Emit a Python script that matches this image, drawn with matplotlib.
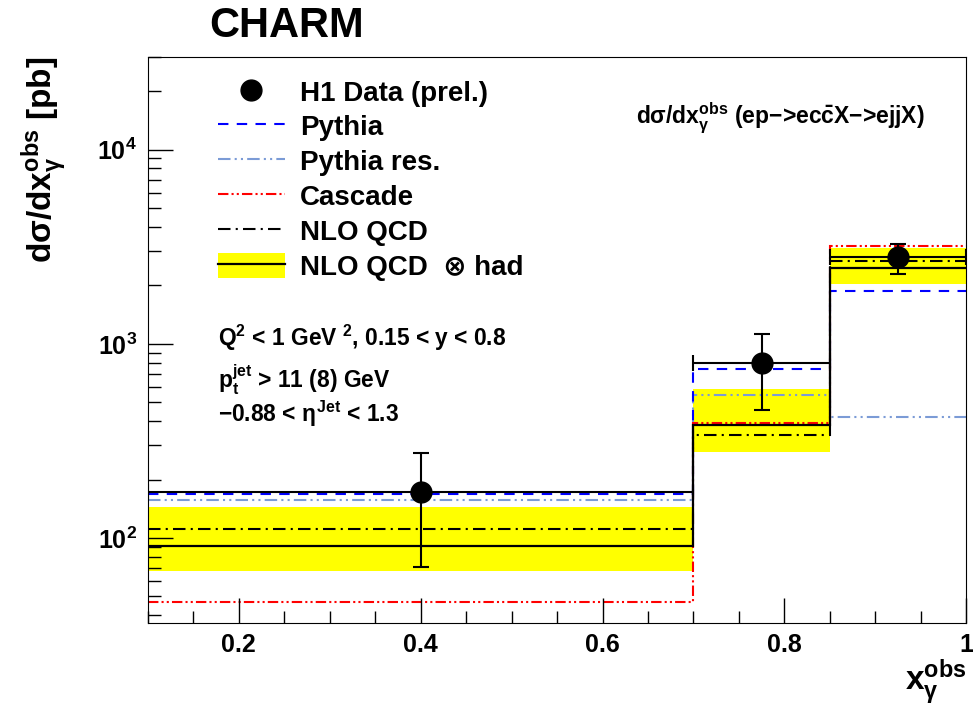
import numpy as np
import matplotlib
matplotlib.use("Agg")
import matplotlib.pyplot as plt
from matplotlib.lines import Line2D
from matplotlib.patches import Patch
from matplotlib.ticker import LogLocator, MultipleLocator, FixedLocator

plt.rcParams["font.family"] = ["Liberation Sans", "DejaVu Sans"]
plt.rcParams["font.weight"] = "bold"
plt.rcParams["axes.labelweight"] = "bold"
plt.rcParams["mathtext.fontset"] = "custom"
plt.rcParams["mathtext.rm"] = "Liberation Sans:bold"
plt.rcParams["mathtext.it"] = "Liberation Sans:bold"
plt.rcParams["mathtext.bf"] = "Liberation Sans:bold"

# bins in x_gamma^obs
edges = [0.1, 0.7, 0.85, 1.0]
x_data = [0.4, 0.775, 0.925]
x_half = [0.3, 0.075, 0.075]

# H1 data (prel.) with total errors
data = [173, 798, 2805]
data_up = [274, 1126, 3273]
data_lo = [71, 457, 2297]

# predictions
pythia = [169, 743, 1875]
pythia_res = [157, 546, 421]
cascade = [46.8, 392, 3199]
nlo = [111, 340, 2680]
nlo_had = [91, 382, 2466]
nlo_had_hi = [144, 586, 3126]
nlo_had_lo = [67.6, 277, 2036]

fig = plt.figure(figsize=(9.73, 7.12), dpi=100)
ax = fig.add_axes([0.152, 0.125, 0.841, 0.795])

ax.stairs(nlo_had_hi, edges, baseline=nlo_had_lo, fill=True, color="#ffff00", lw=0)
ax.stairs(pythia_res, edges, baseline=None, color="#7b9bd6", lw=1.5, ls=(0, (6, 2, 1, 2, 1, 2)))
ax.stairs(pythia, edges, baseline=None, color="#0000ff", lw=1.5, ls=(0, (5, 4)))
ax.stairs(cascade, edges, baseline=None, color="#ff0000", lw=1.5, ls=(0, (5, 1.5, 1, 1.5, 1, 1.5)))
ax.stairs(nlo, edges, baseline=None, color="black", lw=1.5, ls=(0, (6, 2.5, 1, 2.5)))
ax.stairs(nlo_had, edges, baseline=None, color="black", lw=1.6)

yerr = [np.array(data) - np.array(data_lo), np.array(data_up) - np.array(data)]
ax.errorbar(x_data, data, xerr=x_half, yerr=yerr, fmt="o", color="black",
            ms=15, lw=1.5, capsize=6, capthick=1.5, zorder=5)

ax.set_xlim(0.1, 1.0)
ax.set_yscale("log")
ax.set_ylim(36.5, 30000)

ax.xaxis.set_major_locator(FixedLocator([0.2, 0.4, 0.6, 0.8, 1.0]))
ax.xaxis.set_minor_locator(MultipleLocator(0.05))
ax.set_xticklabels(["0.2", "0.4", "0.6", "0.8", "1"])
ax.yaxis.set_major_locator(LogLocator(base=10))
ax.yaxis.set_minor_locator(LogLocator(base=10, subs=np.arange(2, 10)))
ax.tick_params(which="both", direction="in", top=False, right=False, labelsize=18)
ax.tick_params(which="major", length=18, width=1)
ax.tick_params(which="minor", length=9, width=1)
ax.tick_params(axis="x", pad=7)
ax.tick_params(axis="y", pad=8)
ax.yaxis.set_minor_formatter(plt.NullFormatter())

ax.set_ylabel(r"d$\sigma$/dx$_{\gamma}^{\rm obs}$ [pb]", fontsize=24, loc="top", labelpad=20)
ax.set_xlabel(r"x$_{\gamma}^{\rm obs}$", fontsize=24, loc="right", labelpad=0)

fig.text(0.215, 0.963, "CHARM", fontsize=30, fontweight="bold", va="center")

handles = [
    Line2D([], [], marker="o", color="black", ls="none", ms=15),
    Line2D([], [], color="#0000ff", lw=1.5, ls=(0, (5, 4))),
    Line2D([], [], color="#7b9bd6", lw=1.5, ls=(0, (6, 2, 1, 2, 1, 2))),
    Line2D([], [], color="#ff0000", lw=1.5, ls=(0, (5, 1.5, 1, 1.5, 1, 1.5))),
    Line2D([], [], color="black", lw=1.5, ls=(0, (6, 2.5, 1, 2.5))),
    (Patch(facecolor="#ffff00", edgecolor="none"), Line2D([], [], color="black", lw=1.6)),
]
labels = ["H1 Data (prel.)", "Pythia", "Pythia res.", "Cascade", "NLO QCD", "NLO QCD  \u2297 had"]
ax.legend(handles, labels, loc="upper left", bbox_to_anchor=(0.055, 1.006), frameon=False,
          fontsize=20, handlelength=2.4, handleheight=1.0, labelspacing=0.25, handletextpad=0.55)

ax.text(0.086, 0.49, r"Q$^{2}$ < 1 GeV $^{2}$, 0.15 < y < 0.8", transform=ax.transAxes, fontsize=16.4)
ax.text(0.086, 0.415, r"p$_{\rm t}^{\rm jet}$ > 11 (8) GeV", transform=ax.transAxes, fontsize=16.4)
ax.text(0.086, 0.355, r"$-$0.88 < $\eta^{\rm Jet}$ < 1.3", transform=ax.transAxes, fontsize=16.4)
ax.text(0.597, 0.882, r"d$\sigma$/dx$_{\gamma}^{\rm obs}$ (ep$-$>ec$\bar{\rm c}$X$-$>ejjX)",
        transform=ax.transAxes, fontsize=16.5)

fig.savefig("out.png", dpi=100)
